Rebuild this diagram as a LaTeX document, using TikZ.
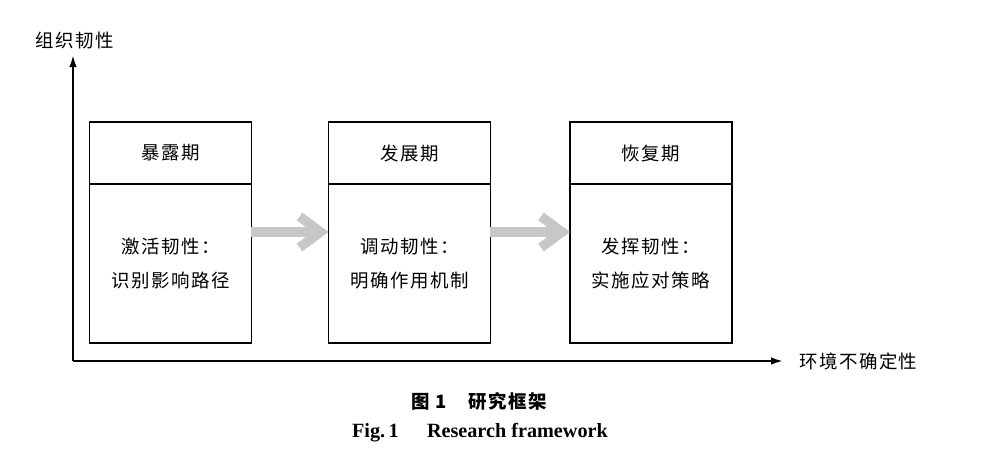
\documentclass[tikz,border=0pt]{standalone}
\usepackage{fontspec}
\setmainfont{Liberation Serif}
\newfontfamily\cjk[LetterSpace=8]{Noto Sans CJK SC}
\usetikzlibrary{positioning,arrows.meta}
\tikzset{
	phase/.style={draw, rectangle, line width=1.1pt, minimum width=3.24cm, minimum height=1.24cm, inner sep=0pt, outer sep=0pt, font=\cjk\fontsize{10.5}{12}\selectfont},
	phasebody/.style={phase, minimum height=3.18cm, align=center, font=\cjk\fontsize{10.5}{19.3}\selectfont},
	flow/.style={line width=0.19cm, black!22, -{Straight Barb[length=0.42cm, width=0.62cm]}},
	axis/.style={line width=1.1pt, -{Latex[length=0.24cm, width=0.15cm]}}
}
\begin{document}
	\begin{tikzpicture}[x=0.02cm, y=-0.02cm]
		\useasboundingbox (0,0) rectangle (1000,461);
		% axes
		\coordinate (o) at (73,361);
		\coordinate (ytop) at (73,55);
		\coordinate (xend) at (783,361);
		\draw[axis] (o) -- (ytop);
		\draw[axis] (o) -- (xend);
		\node[font=\cjk\fontsize{10.5}{12}\selectfont] (ylab) at (75,41) {组织韧性};
		\node[font=\cjk\fontsize{10.5}{12}\selectfont, anchor=west, inner sep=0pt] (xlab) at (799,361) {环境不确定性};
		% phases
		\node[phase] (h1) at (170.5,153) {暴露期};
		\node[phasebody, below=0pt of h1] (b1) {激活韧性：\\识别影响路径};
		\node[phase] (h2) at (409.5,153) {发展期};
		\node[phasebody, below=0pt of h2] (b2) {调动韧性：\\明确作用机制};
		\node[phase] (h3) at (651,153) {恢复期};
		\node[phasebody, below=0pt of h3] (b3) {发挥韧性：\\实施应对策略};
		\draw[flow] ([yshift=0.63cm]b1.east) -- ([yshift=0.63cm]b2.west);
		\draw[flow] ([yshift=0.63cm]b2.east) -- ([yshift=0.63cm]b3.west);
		% caption
		\node[font=\cjk\bfseries\fontsize{10.5}{12}\selectfont] (capzh) at (479,401) {图 1\hspace{1.2em}研究框架};
		\node[font=\bfseries\fontsize{11.5}{12}\selectfont] (capen) at (480,433) {Fig.\,1\hspace{1.4em}Research framework};
	\end{tikzpicture}
\end{document}
